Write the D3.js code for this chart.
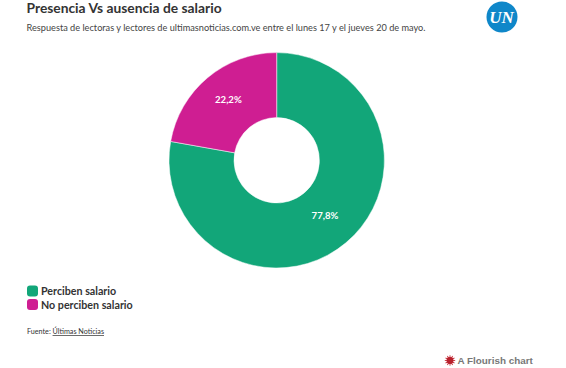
<!DOCTYPE html>
<html lang="es">

<head>
    <meta charset="UTF-8">
    <title>Presencia Vs ausencia de salario</title>
    <style>
        html, body {
            margin: 0;
            background: #fff;
            overflow: hidden;
        }

        svg {
            display: block;
            font-family: Lato, 'Noto Sans', sans-serif;
        }

        .title {
            font-size: 13.8px;
            font-weight: 700;
            fill: #333;
        }

        .subtitle {
            font-size: 9.2px;
            fill: #444;
        }

        .legendText {
            font-size: 10.7px;
            font-weight: 700;
            fill: #333;
        }

        .source {
            font-size: 7.2px;
            fill: #333;
        }

        .sliceText {
            font-size: 9.6px;
            font-weight: 700;
            fill: #fff;
            text-anchor: middle;
        }
    </style>
</head>

<body>
    <div id="chart"></div>
    <script src="https://cdn.jsdelivr.net/npm/d3@7"></script>
    <script>
        const categories = ['Perciben salario', 'No perciben salario'];
        const values = [77.8, 22.2];
        const valueLabels = ['77,8%', '22,2%'];
        const colors = ['#12a679', '#cf1e92'];

        const width = 566, height = 368;
        const cx = 276.7, cy = 160.3;
        const outerR = 107.7, innerR = 42.7;

        const svg = d3.select('#chart').append('svg')
            .attr('width', width)
            .attr('height', height);

        // titulo
        svg.append('text').attr('class', 'title').attr('x', 26.5).attr('y', 13)
            .text('Presencia Vs ausencia de salario');
        svg.append('text').attr('class', 'subtitle').attr('x', 26.5).attr('y', 30.5)
            .text('Respuesta de lectoras y lectores de ultimasnoticias.com.ve entre el lunes 17 y el jueves 20 de mayo.');

        // logo UN
        const logo = svg.append('g').attr('transform', 'translate(502,17)');
        logo.append('circle').attr('r', 15.5).attr('fill', '#0f87c9');
        logo.append('text').attr('x', -0.5).attr('y', 6)
            .attr('text-anchor', 'middle')
            .attr('font-family', 'Liberation Serif, serif')
            .attr('font-size', 17).attr('font-weight', 700).attr('font-style', 'italic')
            .attr('fill', '#fff').text('UN');

        // donut
        const pie = d3.pie().sort(null).value(function (d) { return d; });
        const arc = d3.arc().innerRadius(innerR).outerRadius(outerR);
        const slices = pie(values);

        const g = svg.append('g').attr('transform', 'translate(' + cx + ',' + cy + ')');

        g.selectAll('path')
            .data(slices)
            .enter().append('path')
            .attr('d', arc)
            .attr('fill', function (d, i) { return colors[i]; })
            .attr('stroke', '#fff')
            .attr('stroke-width', 0.5);

        g.selectAll('.sliceText')
            .data(slices)
            .enter().append('text')
            .attr('class', 'sliceText')
            .attr('transform', function (d) { return 'translate(' + arc.centroid(d) + ')'; })
            .attr('dy', '0.08em')
            .text(function (d, i) { return valueLabels[i]; });

        // leyenda
        const legend = svg.selectAll('.legendItem')
            .data(categories)
            .enter().append('g')
            .attr('class', 'legendItem')
            .attr('transform', function (d, i) { return 'translate(27,' + (285.5 + i * 13.5) + ')'; });

        legend.append('rect')
            .attr('width', 11).attr('height', 11).attr('rx', 3)
            .attr('fill', function (d, i) { return colors[i]; });

        legend.append('text')
            .attr('class', 'legendText')
            .attr('x', 14).attr('y', 9.5)
            .text(function (d) { return d; });

        // fuente
        const source = svg.append('text').attr('class', 'source').attr('x', 27).attr('y', 334);
        source.append('tspan').text('Fuente: ');
        source.append('tspan').attr('text-decoration', 'underline').text('Últimas Noticias');

        // marca Flourish
        const mark = svg.append('g').attr('transform', 'translate(450,360.5)');
        d3.range(12).forEach(function (i) {
            mark.append('line')
                .attr('y1', 2).attr('y2', 5.2)
                .attr('stroke', '#c8303a').attr('stroke-width', 0.9)
                .attr('transform', 'rotate(' + i * 30 + ')');
        });
        mark.append('circle').attr('r', 3.4).attr('fill', '#b8202c');
        svg.append('text').attr('x', 457.5).attr('y', 364)
            .attr('font-family', 'Liberation Sans, sans-serif')
            .attr('font-size', 9.9).attr('font-weight', 700).attr('fill', '#777')
            .text('A Flourish chart');
    </script>
</body>

</html>
